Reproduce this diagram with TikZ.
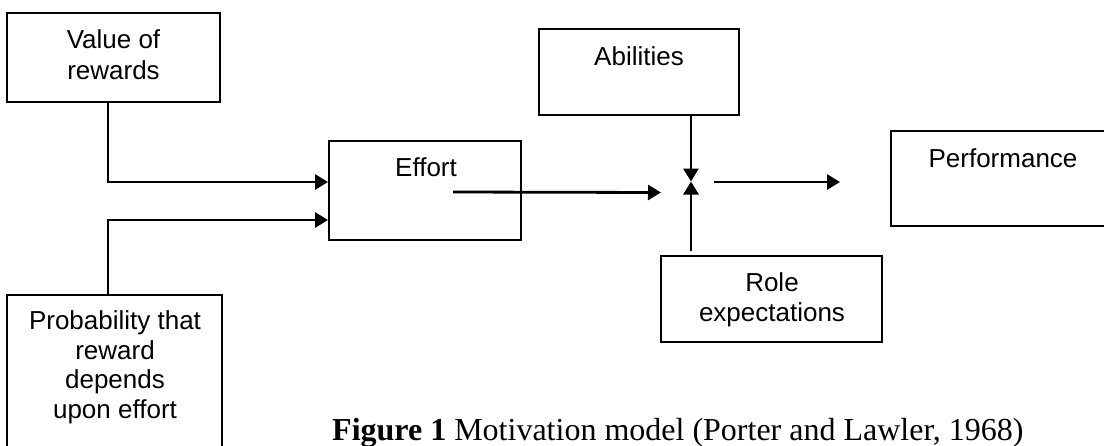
\documentclass[tikz,border=0pt]{standalone}
\usepackage{fontspec}
\setmainfont{Liberation Serif}
\newfontfamily\arialf{Liberation Sans}
\usetikzlibrary{arrows.meta,calc}
\begin{document}
\begin{tikzpicture}[x=1pt,y=-1pt,
  box/.style args={#1x#2}{draw, line width=2pt, minimum width=#1, minimum height=#2, inner sep=0pt},
  lbl/.style={font=\arialf\fontsize{26}{29.5}\selectfont, align=center, anchor=base, inner sep=0pt},
  arr/.style={line width=2.8pt, -{Triangle[length=13pt,width=15pt]}}
]
\useasboundingbox (0,0) rectangle (1104,445);
\clip (0,0) rectangle (1104,445);
% boxes
\node[box=213pt x 89pt] (val) at (113.5,57.5) {};
\node[box=215pt x 165pt] (prob) at (114.5,377.5) {};
\node[box=192pt x 99pt] (effort) at (425,190.5) {};
\node[box=200pt x 86pt] (abil) at (639,72) {};
\node[box=221pt x 86pt] (role) at (771.5,299) {};
\node[box=224pt x 95pt] (perf) at (1003,178.5) {};
\coordinate (bow) at (691,181.5);
% texts (anchor base = baseline of last line)
\node[lbl, font=\arialf\fontsize{26}{31}\selectfont] (tval) at (113.5,79) {Value of\\rewards};
\node[lbl] (tprob) at (115,418) {Probability that\\reward\\depends\\upon effort};
\node[lbl] (teff) at (426,176) {Effort};
\node[lbl] (tabil) at (639,65) {Abilities};
\node[lbl] (trole) at (772,321) {Role\\expectations};
\node[lbl] (tperf) at (1003,167) {Performance};
% connectors
\draw[arr] ($(val.south)+(-5.5,0)$) |- ($(effort.west)+(0,-8.5)$);
\draw[arr] ($(prob.north)+(-6.5,0)$) |- ($(effort.west)+(0,29.5)$);
\draw[arr] ($(effort.center)+(28,1.5)$) -- ($(bow)+(-30,11)$);
\draw[arr] (bow |- abil.south) -- (bow);
\draw[arr, shorten <=4.5pt] (bow |- role.north) -- (bow);
\draw[arr] ($(bow)+(23,0.5)$) -- ($(perf.west)+(-50,3.5)$);
% caption
\node[anchor=base west, inner sep=0pt, font=\fontsize{32}{36}\selectfont] (cap) at (332,440)
  {\textbf{Figure 1} Motivation model (Porter and Lawler, 1968)};
\end{tikzpicture}
\end{document}
